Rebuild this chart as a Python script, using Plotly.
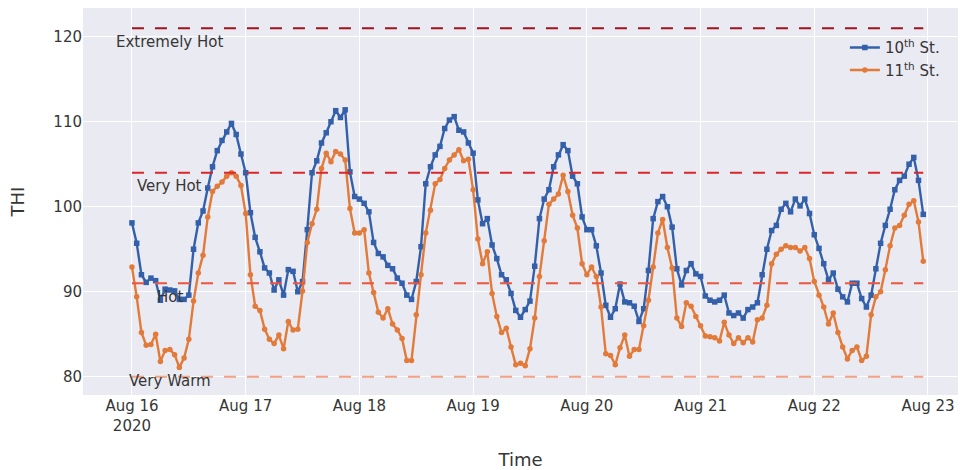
import pandas as pd
import plotly.graph_objects as go

# Hourly Temperature-Humidity Index readings, Aug 16-22 2020
start_time = "2020-08-16 00:00"

thi_10th = [
    98.1, 95.7, 92.0, 91.1, 91.6, 91.3, 89.0, 90.3, 90.2, 90.1, 89.1, 89.1,
    89.6, 95.0, 98.1, 99.5, 102.2, 104.7, 106.6, 107.8, 108.8, 109.8, 108.5, 106.2,
    104.0, 99.3, 96.4, 94.7, 92.8, 92.2, 90.2, 91.4, 89.6, 92.6, 92.4, 90.0,
    91.2, 97.3, 104.0, 105.4, 107.5, 108.7, 110.0, 111.3, 110.5, 111.4, 104.1, 101.2,
    100.9, 100.4, 99.4, 95.8, 94.5, 94.1, 93.1, 92.7, 91.6, 91.0, 89.6, 89.1,
    91.2, 95.3, 102.7, 104.7, 106.1, 107.1, 109.2, 110.2, 110.6, 109.0, 108.8, 107.5,
    106.3, 100.8, 98.0, 98.6, 95.5, 93.9, 92.0, 91.4, 89.8, 87.8, 87.0, 87.9,
    88.9, 93.0, 98.6, 100.9, 102.0, 104.7, 106.1, 107.3, 106.6, 103.6, 102.7, 98.8,
    97.3, 97.3, 95.4, 92.2, 88.4, 87.0, 88.0, 90.9, 88.8, 88.7, 88.3, 86.5,
    88.0, 92.5, 98.6, 100.6, 101.2, 100.0, 97.6, 92.7, 90.8, 92.5, 93.3, 92.1,
    91.8, 89.5, 89.0, 88.8, 89.0, 89.6, 87.5, 87.2, 87.5, 86.9, 87.9, 88.2,
    88.7, 92.0, 95.0, 97.2, 97.8, 99.7, 100.4, 99.4, 100.9, 100.1, 100.9, 99.2,
    96.7, 95.1, 93.3, 91.4, 92.2, 90.3, 89.4, 88.8, 91.0, 91.0, 89.2, 88.2,
    89.6, 92.7, 95.7, 97.8, 99.7, 102.0, 103.1, 103.6, 105.0, 105.8, 103.1, 99.1,
]

thi_11th = [
    92.9, 89.4, 85.2, 83.7, 83.8, 85.0, 81.8, 83.1, 83.2, 82.6, 81.1, 82.2,
    84.4, 88.9, 92.2, 94.3, 98.8, 101.8, 102.4, 102.9, 103.6, 104.0, 103.6, 102.5,
    99.2, 92.0, 88.3, 87.8, 85.6, 84.4, 83.9, 84.9, 83.3, 86.5, 85.5, 85.6,
    90.1, 95.8, 98.0, 99.7, 104.5, 106.3, 105.3, 106.5, 106.2, 105.5, 99.8, 96.9,
    96.9, 97.3, 92.2, 89.9, 87.6, 86.9, 88.0, 86.2, 85.5, 84.5, 81.9, 81.9,
    87.3, 92.0, 96.9, 99.6, 102.7, 103.2, 104.5, 105.5, 106.1, 106.7, 105.4, 105.6,
    102.0, 96.2, 93.3, 94.7, 89.8, 87.1, 85.2, 85.7, 83.5, 81.4, 81.6, 81.3,
    83.3, 86.9, 91.8, 96.0, 100.3, 100.9, 101.5, 103.7, 101.8, 99.0, 97.5, 93.3,
    92.0, 92.9, 91.8, 88.2, 82.7, 82.5, 81.4, 83.4, 84.9, 82.4, 83.2, 83.2,
    86.0, 89.0, 92.9, 96.9, 98.5, 95.2, 92.8, 86.9, 85.9, 88.7, 88.3, 87.1,
    86.0, 84.8, 84.7, 84.6, 84.2, 86.4, 84.9, 83.9, 84.6, 84.0, 84.6, 84.1,
    86.7, 86.9, 88.4, 93.3, 94.4, 95.0, 95.4, 95.2, 95.2, 94.8, 95.2, 93.9,
    91.2, 89.6, 88.2, 86.2, 87.5, 85.2, 83.5, 82.1, 83.1, 83.5, 81.9, 82.4,
    87.3, 89.4, 90.0, 92.6, 95.4, 97.5, 97.8, 99.0, 100.3, 100.7, 98.2, 93.6,
]

times = pd.date_range(start_time, periods=len(thi_10th), freq="h")

# THI category thresholds
threshold_values = [121, 104, 91, 80]
threshold_labels = ["Extremely Hot", "Very Hot", "Hot", "Very Warm"]
threshold_label_y = [119.4, 102.4, 89.4, 79.5]
threshold_label_x = "2020-08-16 08:00"
threshold_colors = ["#A0141E", "#D9262A", "#EC563F", "#F4A184"]

FONT = "DejaVu Sans"
TEXT = "#363636"

fig = go.Figure()
fig.add_trace(go.Scatter(
    x=times, y=thi_10th, mode="lines+markers", name="10<sup>th</sup> St.",
    line=dict(color="#3460AA", width=2.4),
    marker=dict(symbol="square", size=5.5, color="#3460AA"),
))
fig.add_trace(go.Scatter(
    x=times, y=thi_11th, mode="lines+markers", name="11<sup>th</sup> St.",
    line=dict(color="#E27A3A", width=2.4),
    marker=dict(symbol="circle", size=5.5, color="#E27A3A"),
))

for value, color in zip(threshold_values, threshold_colors):
    fig.add_shape(
        type="line", xref="x", yref="y",
        x0=times[0], x1=times[-1], y0=value, y1=value,
        line=dict(color=color, width=2, dash="12px,11px"),
    )

for label, ly in zip(threshold_labels, threshold_label_y):
    fig.add_annotation(
        x=threshold_label_x, y=ly, text=label, showarrow=False,
        xanchor="center", yanchor="middle",
        font=dict(family=FONT, size=15, color=TEXT),
    )

fig.update_layout(
    width=966, height=470,
    margin=dict(l=83, r=8, t=8, b=75),
    paper_bgcolor="white",
    plot_bgcolor="rgb(234,234,242)",
    font=dict(family=FONT, size=15, color=TEXT),
    showlegend=True,
    legend=dict(
        x=0.985, y=0.94, xanchor="right", yanchor="top",
        bgcolor="rgba(0,0,0,0)", font=dict(family=FONT, size=15, color=TEXT),
    ),
)
fig.update_xaxes(
    title=dict(text="Time", font=dict(size=18, color=TEXT), standoff=20),
    automargin=False,
    range=["2020-08-15 13:40", "2020-08-23 06:20"],
    dtick=86400000, tick0="2020-08-16",
    showgrid=True, gridcolor="white", gridwidth=1,
    zeroline=False, showline=False, ticks="",
    tickfont=dict(size=15, color=TEXT),
)
fig.update_yaxes(
    title=dict(text="THI", font=dict(size=18, color=TEXT), standoff=24),
    automargin=False,
    range=[77.85, 123.38],
    tickvals=[80, 90, 100, 110, 120],
    showgrid=True, gridcolor="white", gridwidth=1,
    zeroline=False, showline=False, ticks="",
    tickfont=dict(size=15, color=TEXT),
)

fig.write_html("out.html")
